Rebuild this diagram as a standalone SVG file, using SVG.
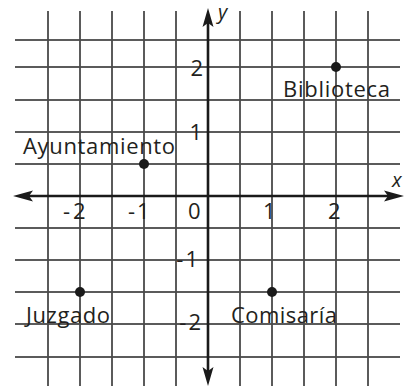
<svg xmlns="http://www.w3.org/2000/svg" width="414" height="386" viewBox="0 0 414 386">
<style>
.h{stroke:#262626;stroke-width:1.5;fill:none}
.v{stroke:#4a4a4a;stroke-width:1.8;fill:none}
.ax{stroke:#1a1a1a;stroke-width:2.6;fill:none}
.ah{fill:#1a1a1a}
.t{font-family:"Open Sans","Liberation Sans",sans-serif;font-size:22px;fill:#231f20}
.n{font-family:"Open Sans","Liberation Sans",sans-serif;font-size:22px;fill:#231f20}
.i{font-family:"Open Sans","Liberation Sans",sans-serif;font-size:20px;font-style:italic;fill:#231f20}
.pt{fill:#1a1a1a}
</style>
<rect width="414" height="386" fill="#fff"/>
<g id="grid">
<path class="h" d="M15 40H400M15 67H400M15 100H400M15 132H400M15 164H400M15 228H400M15 260H400M15 292H400M15 324H400M15 357H400"/>
<path class="v" d="M48 11V386M80 11V386M112 11V386M144 11V386M176 11V386M240 11V386M272 11V386M304 11V386M336 11V386M368 11V386"/>
</g>
<g id="connectors">
<path class="ax" d="M26 196H392M208 20V374"/>
<path class="ah" d="M13 196L33 190.5L29 196L33 201.5Z"/>
<path class="ah" d="M404 196L384 190.5L388 196L384 201.5Z"/>
<path class="ah" d="M208 8L202.5 27L208 23L213.5 27Z"/>
<path class="ah" d="M208 386L202.5 367L208 371L213.5 367Z"/>
</g>
<g id="axis-labels">
<text class="i" x="218" y="19">y</text>
<text class="i" x="392" y="187">x</text>
<text class="n" x="203" y="76" text-anchor="end">2</text>
<text class="n" x="202" y="140" text-anchor="end">1</text>
<text class="n" x="200" y="267" text-anchor="end" letter-spacing="2">-1</text>
<text class="n" x="203" y="330" text-anchor="end" letter-spacing="2">-2</text>
<text class="n" x="63" y="219" letter-spacing="3">-2</text>
<text class="n" x="128" y="219" letter-spacing="2">-1</text>
<text class="n" x="188" y="219">0</text>
<text class="n" x="263" y="219">1</text>
<text class="n" x="328" y="219">2</text>
</g>
<g id="ayuntamiento">
<circle class="pt" cx="144" cy="164" r="5"/>
<text class="t" x="23" y="154" textLength="152" lengthAdjust="spacing">Ayuntamiento</text>
</g>
<g id="biblioteca">
<circle class="pt" cx="336" cy="67" r="5"/>
<text class="t" x="283" y="97" textLength="107" lengthAdjust="spacing">Biblioteca</text>
</g>
<g id="juzgado">
<circle class="pt" cx="80" cy="292" r="5"/>
<text class="t" x="26" y="323" textLength="84" lengthAdjust="spacing">Juzgado</text>
</g>
<g id="comisaria">
<circle class="pt" cx="272" cy="292" r="5"/>
<text class="t" x="231" y="323" textLength="106" lengthAdjust="spacing">Comisaría</text>
</g>
</svg>
